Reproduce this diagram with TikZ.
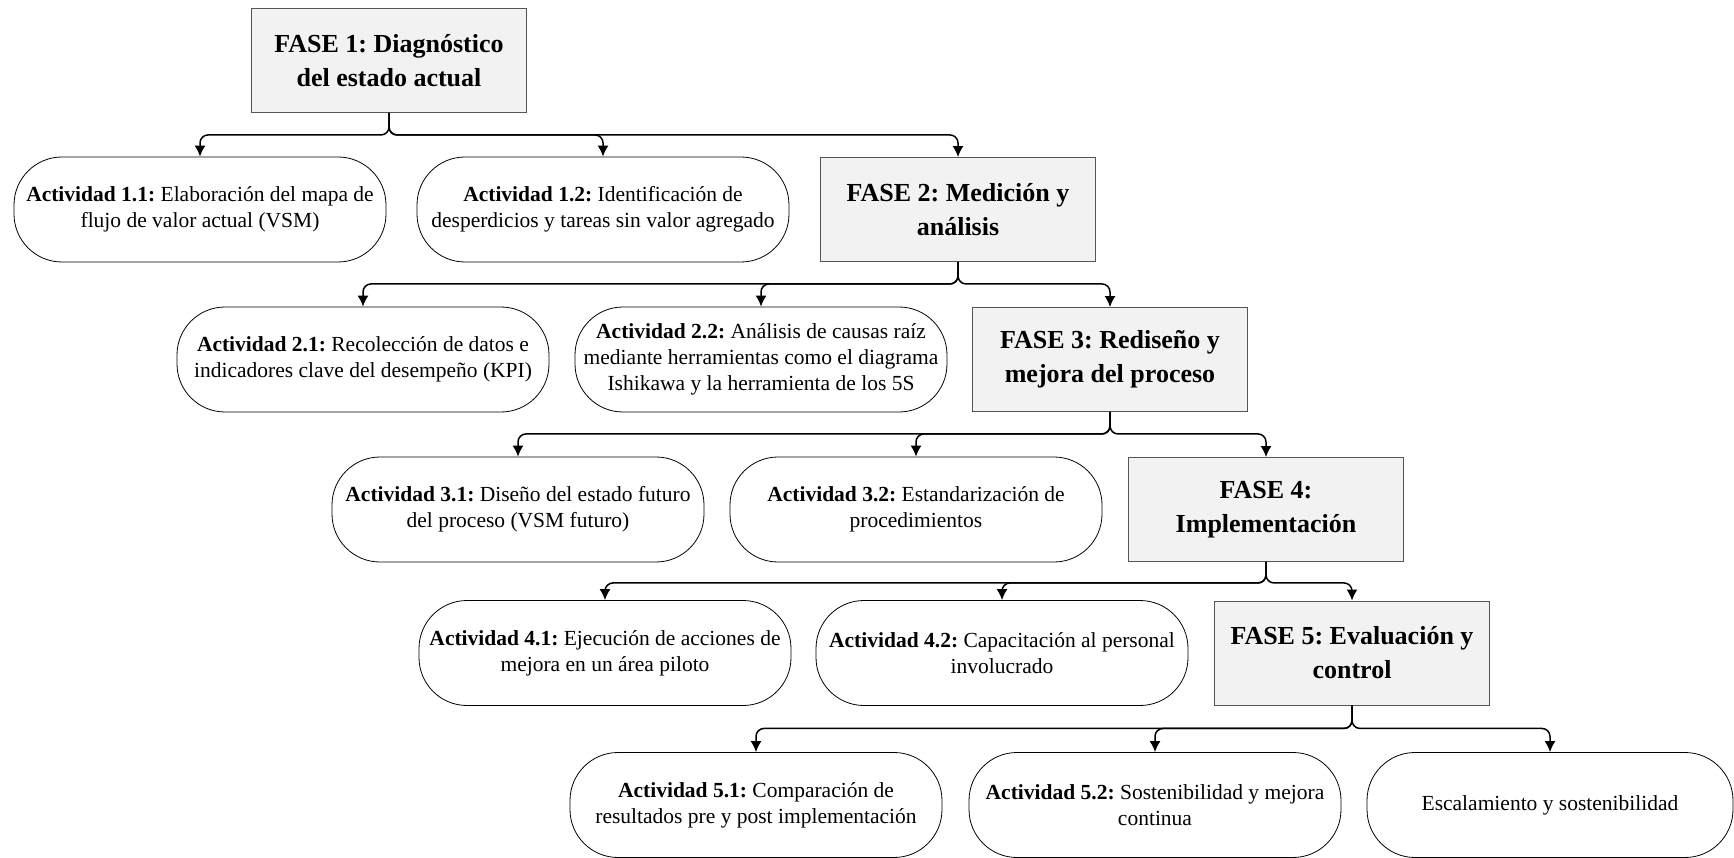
\documentclass[tikz,border=0pt]{standalone}
\usepackage{fontspec}
\setmainfont{Liberation Serif}
\usetikzlibrary{arrows.meta}
\definecolor{fasefill}{HTML}{F2F2F2}
\definecolor{faseline}{HTML}{555555}
\frenchspacing
\begin{document}
\begin{tikzpicture}[x=1pt,y=-1pt,
  fase/.style={draw=faseline, fill=fasefill, line width=0.9pt, minimum width=275pt, minimum height=104pt, align=center, font=\fontsize{26}{34}\selectfont\bfseries, inner sep=0pt},
  act/.style={draw=black, line width=0.8pt, rounded corners=48pt, minimum width=372pt, minimum height=105pt, align=center, font=\fontsize{21.5}{26}\selectfont, inner sep=0pt},
  conn/.style={draw=black, line width=1.5pt, rounded corners=8pt, -{Latex[length=11pt,width=11pt]}},
]
\useasboundingbox (0,0) rectangle (1734,858);

% Row 0
\node[fase] (f1) at (389,60.5) {FASE 1: Diagnóstico\\del estado actual};
% Row 1
\node[act] (a11) at (200,209.5) {\textbf{Actividad 1.1:} Elaboración del mapa de\\flujo de valor actual (VSM)};
\node[act] (a12) at (603,209.5) {\textbf{Actividad 1.2:} Identificación de\\desperdicios y tareas sin valor agregado};
\node[fase] (f2) at (958,209.5) {FASE 2: Medición y\\análisis};
% Row 2
\node[act] (a21) at (363,359.5) {\textbf{Actividad 2.1:} Recolección de datos e\\indicadores clave del desempeño (KPI)};
\node[act] (a22) at (761,359.5) {\textbf{Actividad 2.2:} Análisis de causas raíz\\mediante herramientas como el diagrama\\Ishikawa y la herramienta de los 5S};
\node[fase] (f3) at (1110,359.5) {FASE 3: Rediseño y\\mejora del proceso};
% Row 3
\node[act] (a31) at (518,509.5) {\textbf{Actividad 3.1:} Diseño del estado futuro\\del proceso (VSM futuro)};
\node[act] (a32) at (916,509.5) {\textbf{Actividad 3.2:} Estandarización de\\procedimientos};
\node[fase] (f4) at (1266,509.5) {FASE 4:\\Implementación};
% Row 4
\node[act] (a41) at (605,653) {\textbf{Actividad 4.1:} Ejecución de acciones de\\mejora en un área piloto};
\node[act] (a42) at (1002,653) {\textbf{Actividad 4.2:} Capacitación al personal\\involucrado};
\node[fase] (f5) at (1352,653) {FASE 5: Evaluación y\\control};
% Row 5
\node[act] (a51) at (756,805) {\textbf{Actividad 5.1:} Comparación de\\resultados pre y post implementación};
\node[act] (a52) at (1155,805) {\textbf{Actividad 5.2:} Sostenibilidad y mejora\\continua};
\node[act, minimum width=366pt] (esc) at (1550,805) {Escalamiento y sostenibilidad};

% Junctions
\coordinate (j1) at ([yshift=-22pt]f1.south);
\coordinate (j2) at ([yshift=-22pt]f2.south);
\coordinate (j3) at ([yshift=-22pt]f3.south);
\coordinate (j4) at ([yshift=-21pt]f4.south);
\coordinate (j5) at ([yshift=-23pt]f5.south);

\foreach \c in {a11,a12,f2} \draw[conn] (f1.south) -- (j1) -| (\c.north);
\foreach \c in {a21,a22,f3} \draw[conn] (f2.south) -- (j2) -| (\c.north);
\foreach \c in {a31,a32,f4} \draw[conn] (f3.south) -- (j3) -| (\c.north);
\foreach \c in {a41,a42,f5} \draw[conn] (f4.south) -- (j4) -| (\c.north);
\foreach \c in {a51,a52,esc} \draw[conn] (f5.south) -- (j5) -| (\c.north);
\end{tikzpicture}
\end{document}
